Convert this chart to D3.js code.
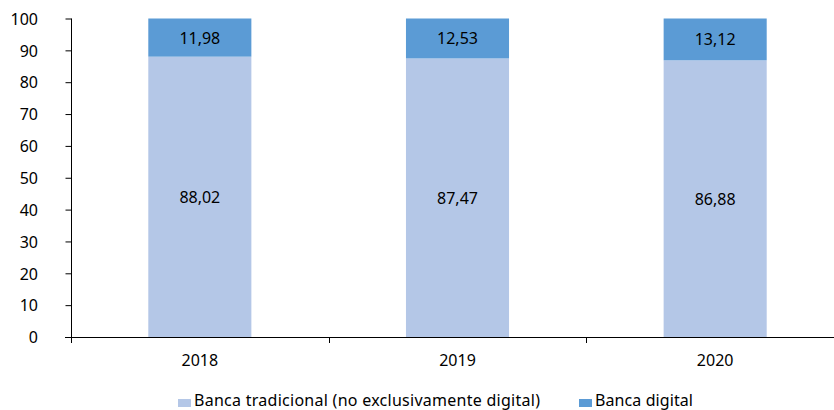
<!DOCTYPE html>
<html>
<head>
<meta charset="utf-8">
<script src="https://cdn.jsdelivr.net/npm/d3@7"></script>
<style>
  html, body { margin: 0; padding: 0; background: #fff; }
  svg { display: block; }
  text { font-family: "Noto Sans", "Open Sans", sans-serif; fill: #000; }
</style>
</head>
<body>
<svg id="chart" width="834" height="410"></svg>
<script>
// Share of customers by bank type (%)
const years = ["2018", "2019", "2020"];
const traditional = [88.02, 87.47, 86.88];
const digital = [11.98, 12.53, 13.12];
const seriesNames = ["Banca tradicional (no exclusivamente digital)", "Banca digital"];
const seriesColors = ["#B4C7E7", "#5B9BD5"];
const yTicks = [0, 10, 20, 30, 40, 50, 60, 70, 80, 90, 100];

const svg = d3.select("#chart");
const fmt = v => v.toFixed(2).replace(".", ",");
const fontSize = 16;

const x = d3.scaleBand().domain(years).range([71, 844]).paddingInner(0.6).paddingOuter(0.3);
const xBoundary = d3.scaleLinear().domain([0, years.length]).range([71, 844]);
const y = d3.scaleLinear().domain([0, 100]).range([337, 18.5]);

const rows = years.map((yr, i) => ({ year: yr, trad: traditional[i], dig: digital[i] }));
const stacked = d3.stack().keys(["trad", "dig"])(rows);

// bars
svg.append("g").selectAll("g").data(stacked).join("g")
  .attr("fill", (d, i) => seriesColors[i])
  .selectAll("rect").data(d => d).join("rect")
  .attr("x", d => x(d.data.year))
  .attr("width", x.bandwidth())
  .attr("y", d => y(d[1]))
  .attr("height", d => y(d[0]) - y(d[1]));

// value labels in the middle of each segment
svg.append("g").selectAll("g").data(stacked).join("g")
  .selectAll("text").data(d => d).join("text")
  .attr("x", d => x(d.data.year) + x.bandwidth() / 2)
  .attr("y", d => (y(d[0]) + y(d[1])) / 2 + 6)
  .attr("text-anchor", "middle")
  .attr("font-size", fontSize)
  .text(d => fmt(d[1] - d[0]));

// y axis
const yAxis = svg.append("g").attr("transform", "translate(71,0)")
  .call(d3.axisLeft(y).tickValues(yTicks).tickSize(6).tickPadding(0));
yAxis.select(".domain").attr("stroke", "#000").attr("d", `M0.5,${y(0)}V${y(100)}`);
yAxis.selectAll(".tick line").attr("stroke", "#000").attr("transform", "translate(0.5,0)");
yAxis.selectAll(".tick text").attr("x", -33).attr("dy", "0.36em")
  .attr("font-size", fontSize).attr("font-family", "Noto Sans").attr("fill", "#000");

// x axis with category boundary ticks
const xAxisG = svg.append("g").attr("transform", `translate(0,${y(0)})`);
xAxisG.append("line").attr("x1", 65).attr("x2", 834).attr("y1", 0.5).attr("y2", 0.5)
  .attr("stroke", "#000");
xAxisG.selectAll("line.bt").data(d3.range(years.length + 1)).join("line")
  .attr("class", "bt")
  .attr("x1", i => Math.round(xBoundary(i)) + 0.5).attr("x2", i => Math.round(xBoundary(i)) + 0.5)
  .attr("y1", 0).attr("y2", 6).attr("stroke", "#000");
xAxisG.selectAll("text").data(years).join("text")
  .attr("x", d => x(d) + x.bandwidth() / 2)
  .attr("y", 29)
  .attr("text-anchor", "middle")
  .attr("font-size", fontSize)
  .text(d => d);

// legend
const legend = svg.append("g");
const legendItems = [
  { name: seriesNames[0], color: seriesColors[0], x: 178, len: 346 },
  { name: seriesNames[1], color: seriesColors[1], x: 579, len: 98 }
];
legendItems.forEach(it => {
  legend.append("rect").attr("x", it.x).attr("y", 399).attr("width", 13).attr("height", 8)
    .attr("fill", it.color);
  legend.append("text").attr("x", it.x + 16).attr("y", 406).attr("font-size", fontSize)
    .attr("textLength", it.len).attr("lengthAdjust", "spacing").text(it.name);
});
</script>
</body>
</html>
